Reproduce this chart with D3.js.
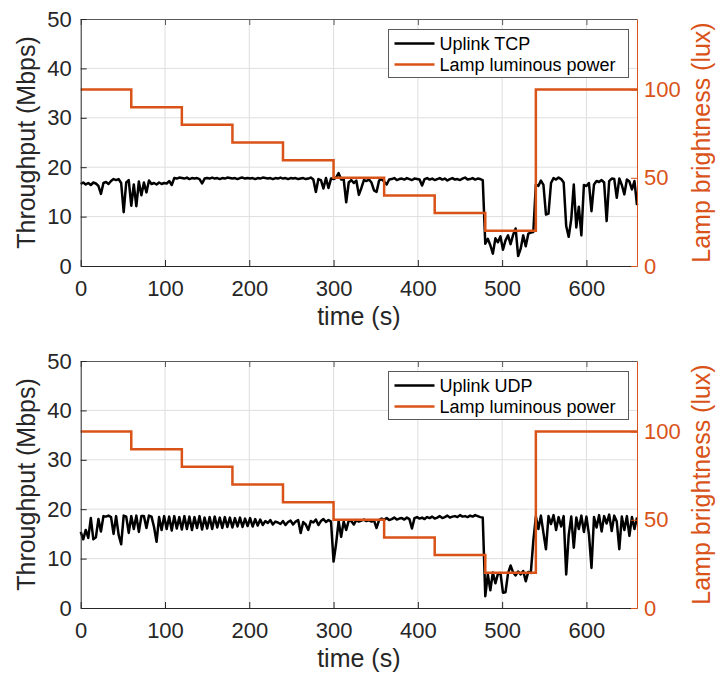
<!DOCTYPE html>
<html>
<head>
<meta charset="utf-8">
<script src="https://cdn.jsdelivr.net/npm/d3@7"></script>
<style>
  body { margin: 0; background: white; }
  text { font-family: "Liberation Sans", Arial, Helvetica, sans-serif; }
</style>
</head>
<body>
<script>
const w = 718;
const h = 675;

// throughput samples, one every 3 s from 0 to 660 s (Mbps)
const sampleStep = 3;
const tcpThroughput = [
  16.6,16.9,16.5,16.8,16.4,16.9,16.7,16.2,14.6,16.8,
  17.0,16.6,17.2,17.6,17.4,17.6,16.8,10.9,16.9,17.4,
  12.2,16.5,12.1,17.1,14.3,16.9,14.9,17.3,16.6,16.8,
  16.5,16.9,16.6,16.8,16.7,17.2,16.4,17.8,17.7,17.9,
  17.8,17.7,17.9,17.6,17.8,17.7,17.8,17.6,16.7,17.7,
  17.8,17.7,17.9,17.7,17.8,17.6,17.8,17.7,17.9,17.8,
  17.7,17.8,17.6,17.8,17.9,17.7,17.8,17.7,17.8,17.6,
  17.8,17.7,17.9,17.8,17.7,17.8,17.6,17.8,17.7,17.9,
  17.7,17.8,17.6,17.8,17.7,17.8,17.6,17.7,17.8,17.6,
  17.7,17.9,17.5,15.0,17.6,17.4,15.7,17.8,15.8,17.7,
  17.6,17.9,18.8,17.5,17.6,12.9,16.9,17.4,16.8,17.3,
  14.4,15.8,17.4,17.2,17.5,16.9,15.3,15.0,17.3,17.6,
  17.1,16.5,17.5,17.6,17.8,17.4,17.6,17.7,17.5,17.8,
  17.6,17.4,17.7,17.6,17.5,16.3,17.6,17.8,17.5,17.7,
  17.4,17.6,17.8,17.5,17.7,17.3,17.6,17.8,17.5,17.6,
  17.4,17.7,17.9,17.5,17.6,17.8,17.5,17.7,17.6,17.4,
  4.5,5.5,4.2,2.5,5.6,4.8,6.0,3.3,5.2,6.2,
  4.4,6.3,7.6,2.0,3.5,6.2,4.0,6.5,6.8,6.9,
  16.5,16.2,17.3,16.4,10.4,10.6,16.8,17.8,17.5,17.9,
  17.6,16.9,8.1,5.9,9.5,16.5,7.8,12.0,6.2,16.4,
  16.2,16.8,11.1,16.5,17.2,17.0,17.4,16.9,9.1,17.2,
  17.7,17.6,13.8,17.7,16.4,14.5,17.5,17.1,15.5,17.2,
  12.3
];
const udpThroughput = [
  15.4,13.9,15.8,14.2,18.2,13.9,14.3,18.0,15.5,18.6,
  18.5,18.7,18.4,15.0,18.6,14.8,12.9,18.7,18.5,15.2,
  18.6,16.0,18.7,15.4,18.6,18.6,16.2,18.7,18.5,16.4,
  13.4,18.4,15.8,18.6,16.0,18.5,15.7,18.6,16.1,18.4,
  15.9,18.6,16.0,18.5,15.8,18.4,16.2,18.6,15.9,18.3,
  16.1,18.4,16.0,18.5,16.3,18.3,16.2,18.4,16.4,18.3,
  16.3,18.2,16.5,18.3,16.4,18.1,16.6,18.2,16.5,18.0,
  16.7,17.9,16.8,17.6,17.2,17.8,16.9,17.5,17.3,17.0,
  17.6,16.8,17.4,17.7,16.9,17.5,17.8,15.2,17.4,16.9,
  15.8,17.6,17.3,17.9,16.8,17.6,18.0,17.4,17.8,17.5,
  9.4,13.0,17.6,14.4,17.5,15.8,17.7,17.6,16.9,17.8,
  17.5,17.7,17.9,17.6,17.8,17.5,17.7,16.2,17.8,18.1,
  17.9,18.2,17.8,18.0,18.3,17.9,18.1,18.2,17.9,18.3,
  18.0,16.1,18.2,18.4,18.1,18.3,18.0,18.4,18.2,18.5,
  18.1,18.3,18.6,18.2,18.4,18.7,18.3,18.5,18.6,18.4,
  18.8,18.5,18.6,18.4,18.7,18.5,18.8,18.6,18.4,18.3,
  2.4,6.8,3.6,7.2,5.0,6.9,7.1,3.1,3.2,7.0,
  8.6,7.2,6.6,7.4,6.8,7.5,5.4,7.3,7.1,13.6,
  18.5,16.0,18.7,15.2,11.9,18.6,17.0,18.8,15.8,18.4,
  16.5,18.6,6.8,14.8,18.5,12.2,18.3,16.0,18.7,15.4,
  18.5,14.9,8.1,18.4,16.3,18.8,15.5,18.6,17.1,18.9,
  15.6,18.7,17.5,11.9,18.5,15.8,18.6,14.6,18.4,16.0,
  18.3
];

// lamp steps (s, lux)
const lampTimes = [0, 60, 120, 180, 240, 300, 360, 420, 480, 540, 660];
const lampLux = [100, 90, 80, 70, 60, 50, 40, 30, 20, 100, 100];

const timeTicks = [0, 100, 200, 300, 400, 500, 600];
const mbpsTicks = [0, 10, 20, 30, 40, 50];
const luxTicks = [0, 50, 100];

const orange = "#D95319";
const dark = "#262626";

const left = 80.7;
const right = 637;
const plotH = 247;

const svg = d3.select("body")
              .append("svg")
              .attr("width", w)
              .attr("height", h)
              .style("background-color", "white");

const xScale = d3.scaleLinear().domain([0, 660]).range([left, right]);

function drawPanel(top, series, seriesName) {
   const bottom = top + plotH;
   const yScale = d3.scaleLinear().domain([0, 50]).range([bottom, top]);
   const y2Scale = d3.scaleLinear().domain([0, 140]).range([bottom, top]);
   const g = svg.append("g");

   // grid
   g.append("g")
    .selectAll("line")
    .data(timeTicks.slice(1))
    .enter()
    .append("line")
    .attr("x1", d => xScale(d)).attr("x2", d => xScale(d))
    .attr("y1", top).attr("y2", bottom)
    .attr("stroke", "#dfdfdf");
   g.append("g")
    .selectAll("line")
    .data(mbpsTicks.slice(1, -1))
    .enter()
    .append("line")
    .attr("x1", left).attr("x2", right)
    .attr("y1", d => yScale(d)).attr("y2", d => yScale(d))
    .attr("stroke", "#dfdfdf");

   // throughput
   const line = d3.line()
                  .x((d, i) => xScale(i * sampleStep))
                  .y(d => yScale(d));
   g.append("path")
    .datum(series)
    .attr("d", line)
    .attr("fill", "none")
    .attr("stroke", "black")
    .attr("stroke-width", 2.5)
    .attr("stroke-linejoin", "round");

   // lamp
   const lampLine = d3.line()
                      .curve(d3.curveStepAfter)
                      .x((d, i) => xScale(lampTimes[i]))
                      .y(d => y2Scale(d));
   g.append("path")
    .datum(lampLux)
    .attr("d", lampLine)
    .attr("fill", "none")
    .attr("stroke", orange)
    .attr("stroke-width", 2.5);

   // axes
   const xAxis = d3.axisBottom(xScale).tickValues(timeTicks)
                   .tickSizeInner(-6).tickSizeOuter(0).tickPadding(14);
   const xTop = d3.axisTop(xScale).tickValues(timeTicks)
                  .tickSizeInner(-6).tickSizeOuter(0).tickFormat("");
   const yAxis = d3.axisLeft(yScale).tickValues(mbpsTicks)
                   .tickSizeInner(-6).tickSizeOuter(0).tickPadding(9);
   const y2Axis = d3.axisRight(y2Scale).tickValues(luxTicks)
                    .tickSizeInner(-6).tickSizeOuter(0).tickPadding(7);

   const gx = g.append("g").attr("transform", `translate(0, ${bottom})`).call(xAxis);
   const gt = g.append("g").attr("transform", `translate(0, ${top})`).call(xTop);
   const gy = g.append("g").attr("transform", `translate(${left}, 0)`).call(yAxis);
   const gy2 = g.append("g").attr("transform", `translate(${right}, 0)`).call(y2Axis);

   [gx, gy].forEach(a => {
      a.selectAll("path, line").attr("stroke", dark);
      a.selectAll("text").attr("fill", dark).style("font-size", "22px");
   });
   gt.selectAll("path, line").attr("stroke", "#5a5a5a");
   gy2.selectAll("path, line").attr("stroke", orange);
   gy2.selectAll("text").attr("fill", orange).style("font-size", "22px");

   // axis labels
   g.append("text")
    .text("Throughput (Mbps)")
    .attr("transform", `translate(35, ${top + plotH / 2}) rotate(-90)`)
    .attr("text-anchor", "middle")
    .attr("fill", dark)
    .style("font-size", "25px");
   g.append("text")
    .text("Lamp brightness (lux)")
    .attr("transform", `translate(710, ${top + plotH / 2}) rotate(-90)`)
    .attr("text-anchor", "middle")
    .attr("fill", orange)
    .style("font-size", "25px");
   g.append("text")
    .text("time (s)")
    .attr("x", (left + right) / 2)
    .attr("y", bottom + 59)
    .attr("text-anchor", "middle")
    .attr("fill", dark)
    .style("font-size", "25px");

   // legend
   const legendData = [
      { label: seriesName, color: "black" },
      { label: "Lamp luminous power", color: orange }
   ];
   const legend = g.append("g")
                   .attr("transform", `translate(388.5, ${top + 10.5})`);
   legend.append("rect")
         .attr("width", 240)
         .attr("height", 48)
         .attr("fill", "white")
         .attr("stroke", "#5a5a5a");
   const item = legend.selectAll(".legend-label")
                      .data(legendData)
                      .enter()
                      .append("g")
                      .attr("transform", (d, i) => `translate(0, ${14 + i * 21})`);
   item.append("line")
       .attr("x1", 6).attr("x2", 46)
       .attr("stroke", d => d.color)
       .attr("stroke-width", 2.5);
   item.append("text")
       .attr("x", 51)
       .attr("dy", "0.35em")
       .attr("fill", "black")
       .style("font-size", "18px")
       .text(d => d.label);
}

drawPanel(19, tcpThroughput, "Uplink TCP");
drawPanel(361, udpThroughput, "Uplink UDP");
</script>
</body>
</html>
